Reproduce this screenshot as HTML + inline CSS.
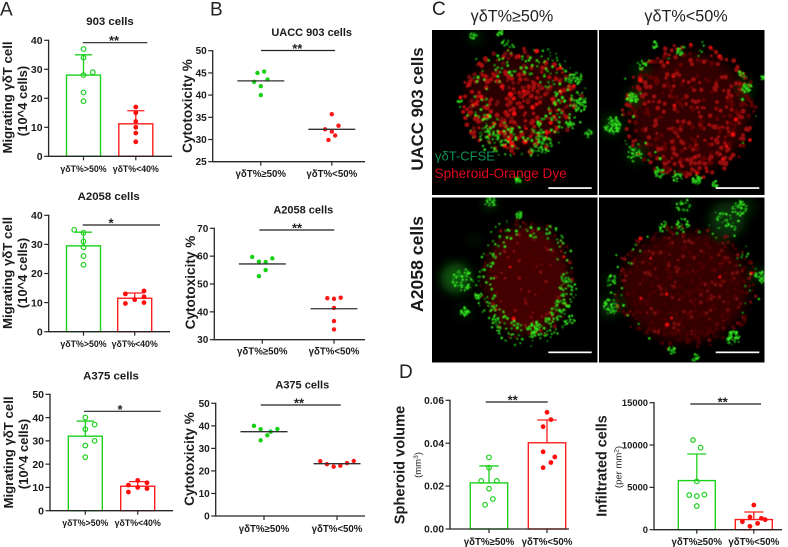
<!DOCTYPE html>
<html lang="en">
<head>
<meta charset="utf-8">
<title>Cytotoxicity figure</title>
<style>
html,body{margin:0;padding:0;background:#fff;}
svg{display:block;font-family:"Liberation Sans",sans-serif;}
.b{font-weight:bold;fill:#1a1a1a;}
</style>
</head>
<body>
<svg id="figure" xmlns="http://www.w3.org/2000/svg" width="788" height="547" viewBox="0 0 788 547">
<defs>
  <filter id="soft" x="-5%" y="-5%" width="110%" height="110%"><feGaussianBlur stdDeviation="0.4"/></filter>
  <filter id="soft2" x="-30%" y="-30%" width="160%" height="160%"><feGaussianBlur stdDeviation="5"/></filter>
  <filter id="ink" x="-5%" y="-5%" width="110%" height="110%"><feGaussianBlur stdDeviation="0.25"/></filter>
  <clipPath id="clipTL"><rect x="432" y="30" width="165.5" height="165"/></clipPath>
  <clipPath id="clipTR"><rect x="599" y="30" width="165.5" height="165"/></clipPath>
  <clipPath id="clipBL"><rect x="432" y="197.5" width="165.5" height="165"/></clipPath>
  <clipPath id="clipBR"><rect x="599" y="197.5" width="165.5" height="165"/></clipPath>
</defs>
<rect width="788" height="547" fill="#fff"/>

<!-- Panel letters -->
<text x="0" y="15.5" font-size="19" fill="#222">A</text>
<text x="210" y="15.5" font-size="19" fill="#222">B</text>
<text x="432" y="15" font-size="19" fill="#222">C</text>
<text x="399" y="378" font-size="19" fill="#222">D</text>

<!-- Panel A -->
<g id="a1" filter="url(#ink)">
  <text class="b" x="110" y="25" font-size="11.4" text-anchor="middle">903 cells</text>
  <text class="b" transform="rotate(-90 12 97.5)" x="12" y="97.5" font-size="13.2" text-anchor="middle">Migrating γδT cell</text>
  <text class="b" transform="rotate(-90 27 101)" x="27" y="101" font-size="13" text-anchor="middle">(10^4 cells)</text>
</g>
<g id="a2" filter="url(#ink)">
  <text class="b" x="108.7" y="200" font-size="11.4" text-anchor="middle">A2058 cells</text>
  <text class="b" transform="rotate(-90 12 273)" x="12" y="273" font-size="13.2" text-anchor="middle">Migrating γδT cell</text>
  <text class="b" transform="rotate(-90 27 273)" x="27" y="273" font-size="13" text-anchor="middle">(10^4 cells)</text>
</g>
<g id="a3" filter="url(#ink)">
  <text class="b" x="111" y="379.3" font-size="11.4" text-anchor="middle">A375 cells</text>
  <text class="b" transform="rotate(-90 13 452.5)" x="13" y="452.5" font-size="13.2" text-anchor="middle">Migrating γδT cell</text>
  <text class="b" transform="rotate(-90 28 454)" x="28" y="454" font-size="13" text-anchor="middle">(10^4 cells)</text>
</g>

<!-- Panel B -->
<g id="b1" filter="url(#ink)">
  <text class="b" x="311.7" y="36" font-size="11" text-anchor="middle">UACC 903 cells</text>
  <text class="b" transform="rotate(-90 192 106)" x="192" y="106" font-size="13.6" text-anchor="middle">Cytotoxicity %</text>
</g>
<g id="b2" filter="url(#ink)">
  <text class="b" x="303.3" y="213.7" font-size="11" text-anchor="middle">A2058 cells</text>
  <text class="b" transform="rotate(-90 195 282.5)" x="195" y="282.5" font-size="13.6" text-anchor="middle">Cytotoxicity %</text>
</g>
<g id="b3" filter="url(#ink)">
  <text class="b" x="302.3" y="388.3" font-size="11" text-anchor="middle">A375 cells</text>
  <text class="b" transform="rotate(-90 194 459)" x="194" y="459" font-size="13.6" text-anchor="middle">Cytotoxicity %</text>
</g>

<!-- Panel C -->
<text x="512" y="21.5" font-size="16.2" fill="#222" text-anchor="middle">γδT%≥50%</text>
<text x="686" y="21.5" font-size="16.2" fill="#222" text-anchor="middle">γδT%&lt;50%</text>
<text class="b" transform="rotate(-90 423 109)" x="423" y="109" font-size="16.8" text-anchor="middle">UACC 903 cells</text>
<text class="b" transform="rotate(-90 423 264)" x="423" y="264" font-size="17.6" text-anchor="middle">A2058 cells</text>

<g clip-path="url(#clipTL)"><rect x="432" y="30" width="165.5" height="165" fill="#000"/><g id="mTL" filter="url(#soft)"></g></g>
<g clip-path="url(#clipTR)"><rect x="599" y="30" width="165.5" height="165" fill="#000"/><g id="mTR" filter="url(#soft)"></g></g>
<g clip-path="url(#clipBL)"><rect x="432" y="197.5" width="165.5" height="165" fill="#000"/><g id="mBL" filter="url(#soft)"></g></g>
<g clip-path="url(#clipBR)"><rect x="599" y="197.5" width="165.5" height="165" fill="#000"/><g id="mBR" filter="url(#soft)"></g></g>

<text x="435" y="160.5" font-size="13" fill="#0b9150">γδT-CFSE</text>
<text x="434.5" y="178" font-size="13.6" fill="#e0061e">Spheroid-Orange Dye</text>
<rect x="548.3" y="187.2" width="43.4" height="1.7" fill="#fff"/>
<rect x="715.7" y="187.2" width="43.6" height="1.7" fill="#fff"/>
<rect x="548.3" y="351.5" width="43.4" height="1.7" fill="#fff"/>
<rect x="715.7" y="351.5" width="43.6" height="1.7" fill="#fff"/>

<!-- Panel D -->
<g id="d1" filter="url(#ink)">
  <text class="b" transform="rotate(-90 404.3 465)" x="404.3" y="465" font-size="14.6" text-anchor="middle">Spheroid volume</text>
  <text transform="rotate(-90 421 465)" x="421" y="465" font-size="9.5" fill="#222" text-anchor="middle">(mm<tspan dy="-3" font-size="6.5">3</tspan><tspan dy="3">)</tspan></text>
</g>
<g id="d2" filter="url(#ink)">
  <text class="b" transform="rotate(-90 606.7 466)" x="606.7" y="466" font-size="14.4" text-anchor="middle">Infiltrated cells</text>
  <text transform="rotate(-90 621.7 467)" x="621.7" y="467" font-size="9.5" fill="#222" text-anchor="middle">(per mm<tspan dy="-3" font-size="6.5">2</tspan><tspan dy="3">)</tspan></text>
</g>
</svg>

<script>
// ---------- Chart data ----------
const catsA = ['γδT%>50%', 'γδT%<40%'];
const catsB = ['γδT%≥50%', 'γδT%<50%'];

const a1Ticks = [0, 10, 20, 30, 40];
const a1Means = [28, 11.2];
const a1Sds = [7, 4.5];
const a1Green = [37, 34, 29, 28, 22, 19];
const a1GreenSlots = [0, 0, 1, 0, 0, 0];
const a1Red = [17, 15, 12, 10, 8, 5];
const a1RedSlots = [0, 0, 0, 0, 0, 0];

const a2Ticks = [0, 10, 20, 30, 40];
const a2Means = [29.5, 11.5];
const a2Sds = [4.7, 1.8];
const a2Green = [35, 34, 31, 29, 26, 23];
const a2GreenSlots = [-1, 0, 0, 0, 0, 0];
const a2Red = [14, 13, 12, 11, 10, 9.7];
const a2RedSlots = [1, -1, 1, 0, 1, -1];

const a3Ticks = [0, 10, 20, 30, 40, 50];
const a3Means = [32, 10.5];
const a3Sds = [6.5, 2];
const a3Green = [40, 37, 35, 30, 28, 23];
const a3GreenSlots = [0, 1, 0, 1, 0, 0];
const a3Red = [13, 12, 11, 10, 9.5, 8];
const a3RedSlots = [0, 1, -1, 0, 1, -1];

const b1Ticks = [25, 30, 35, 40, 45, 50];
const b1Means = [43.2, 32.3];
const b1Green = [45.3, 45, 43.5, 43, 42, 40];
const b1GreenSlots = [1, -1, 2, -2, 0, 0];
const b1Red = [35.7, 33.1, 32.3, 31.8, 30.9, 29.9];
const b1RedSlots = [0, 2, -2, 0, 1, -1];

const b2Ticks = [30, 40, 50, 60, 70];
const b2Means = [57.2, 41.1];
const b2Green = [59.7, 59.2, 58, 57.9, 55, 52.8];
const b2GreenSlots = [-3, 3, -1, 1, 1, -1];
const b2Red = [45.1, 44.9, 44.7, 41.4, 36.7, 33.7];
const b2RedSlots = [2, -2, 0, 0, 0, 0];

const b3Ticks = [0, 10, 20, 30, 40, 50];
const b3Means = [37.4, 23.2];
const b3Green = [40, 38.6, 38.5, 37.4, 35.8, 33.6];
const b3GreenSlots = [-3, 4, -1, 2, 1, -1];
const b3Red = [24.4, 24.3, 23.5, 23, 22.3, 21.9];
const b3RedSlots = [5, -5, 3, -3, 1, -1];

const d1Ticks = ['0.00', '0.02', '0.04', '0.06'];
const d1Means = [0.0215, 0.0402];
const d1Sds = [0.0079, 0.0106];
const d1Green = [0.0334, 0.0286, 0.0224, 0.0224, 0.0188, 0.014, 0.0113];
const d1GreenSlots = [0, 0, -2, 2, 0, 1, -1];
const d1Red = [0.0544, 0.051, 0.0477, 0.036, 0.0336, 0.031, 0.0286];
const d1RedSlots = [0, 1, -1, -1, 2, 1, -1];

const d2Ticks = [0, 5000, 10000, 15000];
const d2Means = [5800, 1200];
const d2Sds = [3137, 887];
const d2Green = [10590, 9685, 5709, 4134, 4094, 3976, 2795];
const d2GreenSlots = [-1, 1, 0, 2, -2, 0, 0];
const d2Red = [2913, 1496, 1339, 1181, 945, 748, 394];
const d2RedSlots = [0, -1, 2, 3, -3, 1, -1];

// ---------- Drawing ----------
const NS = 'http://www.w3.org/2000/svg';
const GREEN = '#1fd01f', RED = '#ff1f1f', INK = '#262626';

function mk(parent, tag, attrs, txt) {
  const el = document.createElementNS(NS, tag);
  for (const k in attrs) el.setAttribute(k, attrs[k]);
  if (txt !== undefined) el.textContent = txt;
  parent.appendChild(el);
  return el;
}

function drawAxes(g, o) {
  const y = o.y;
  const xl = mk(g, 'line', {x1: o.axisX, x2: o.xEnd, y1: o.yBot, y2: o.yBot, stroke: INK, 'stroke-width': 1.3});
  
  
  const yl = mk(g, 'line', {x1: o.axisX, x2: o.axisX, y1: o.yTop - 0.6, y2: o.yBot + 0.6, stroke: INK, 'stroke-width': 1.3});
  
  
  o.ticks.forEach(function (t) {
    const v = parseFloat(t);
    const tk = mk(g, 'line', {x1: o.axisX - 4.5, x2: o.axisX, y1: y(v), y2: y(v), stroke: INK, 'stroke-width': 1.2});
    
    
    const lb = mk(g, 'text', {x: o.axisX - 6, y: y(v), dy: '.35em', 'text-anchor': 'end', 'font-size': o.tickFont, 'font-weight': 'bold', fill: '#1a1a1a'}, String(t));
    
    
  });
  o.cats.forEach(function (c, i) {
    const cx = o.centers[i];
    const tk = mk(g, 'line', {x1: cx, x2: cx, y1: o.yBot, y2: o.yBot + 4, stroke: INK, 'stroke-width': 1.2});
    
    
    const lb = mk(g, 'text', {x: cx, y: o.labelY, dy: '.35em', 'text-anchor': 'middle', 'font-size': o.catFont, 'font-weight': 'bold', fill: '#1a1a1a'}, c);
    
    
  });
}

function drawSig(g, o) {
  const ln = mk(g, 'line', {x1: o.sig[0], x2: o.sig[1], y1: o.sig[2], y2: o.sig[2], stroke: '#222', 'stroke-width': 1.2});
  
  
  const st = mk(g, 'text', {x: o.sig[3], y: o.sig[2] + 2.5, 'text-anchor': 'middle', 'font-size': 13, 'font-weight': 'bold', fill: '#222'}, o.sig[4]);
  
  
}

function drawBarChart(id, o) {
  const g = document.getElementById(id);
  o.y = function (v) { return o.yBot - (v - 0) / o.vMax * (o.yBot - o.yTop); };
  const cols = [GREEN, RED];
  [0, 1].forEach(function (i) {
    const cx = o.centers[i], m = o.means[i], top = m + o.sds[i];
    const bar = mk(g, 'rect', {x: cx - o.barHalf, y: o.y(m), width: o.barHalf * 2, height: o.yBot - o.y(m), fill: 'none', stroke: cols[i], 'stroke-width': 1.4});
    
    
    const eb = mk(g, 'line', {x1: cx, x2: cx, y1: o.y(m), y2: o.y(top), stroke: cols[i], 'stroke-width': 1.3});
    
    
    const cap = mk(g, 'line', {x1: cx - o.capHalf, x2: cx + o.capHalf, y1: o.y(top), y2: o.y(top), stroke: cols[i], 'stroke-width': 1.3});
    
    
    o.pts[i].forEach(function (v, k) {
      const px = cx + o.slots[i][k] * o.slotW;
      const attrs = i === 0
        ? {cx: px, cy: o.y(v), r: 2.3, fill: '#fff', 'fill-opacity': 0, stroke: GREEN, 'stroke-width': 1.2}
        : {cx: px, cy: o.y(v), r: 2.4, fill: '#ff0d0d'};
      const p = mk(g, 'circle', attrs);
      
      
    });
  });
  drawAxes(g, o);
  drawSig(g, o);
}

function drawDotChart(id, o) {
  const g = document.getElementById(id);
  const lo = parseFloat(o.ticks[0]), hi = parseFloat(o.ticks[o.ticks.length - 1]);
  o.y = function (v) { return o.yBot - (v - lo) / (hi - lo) * (o.yBot - o.yTop); };
  const cols = ['#12d012', '#ff1414'];
  drawAxes(g, o);
  [0, 1].forEach(function (i) {
    const cx = o.centers[i];
    o.pts[i].forEach(function (v, k) {
      const p = mk(g, 'circle', {cx: cx + o.slots[i][k] * o.slotW, cy: o.y(v), r: 2.2, fill: cols[i]});
      
      
    });
    const ml = mk(g, 'line', {x1: cx - 23.5, x2: cx + 23.5, y1: o.y(o.means[i]), y2: o.y(o.means[i]), stroke: '#333', 'stroke-width': 1.3});
    
    
  });
  drawSig(g, o);
}

drawBarChart('a1', {axisX: 48.6, xEnd: 172, yTop: 40.3, yBot: 156.3, vMax: 40, ticks: a1Ticks, cats: catsA,
  centers: [83.5, 135.8], barHalf: 17, capHalf: 8.6, means: a1Means, sds: a1Sds, pts: [a1Green, a1Red],
  slots: [a1GreenSlots, a1RedSlots], slotW: 9.3, labelY: 168.7, tickFont: 10.5, catFont: 8.8, sig: [82.7, 147.3, 42.7, 114, '**']});
drawBarChart('a2', {axisX: 48.7, xEnd: 170, yTop: 215.3, yBot: 331.7, vMax: 40, ticks: a2Ticks, cats: catsA,
  centers: [83.5, 134.7], barHalf: 17, capHalf: 8.6, means: a2Means, sds: a2Sds, pts: [a2Green, a2Red],
  slots: [a2GreenSlots, a2RedSlots], slotW: 9.3, labelY: 343.7, tickFont: 10.5, catFont: 8.8, sig: [82.7, 160, 225, 111, '*']});
drawBarChart('a3', {axisX: 50, xEnd: 173, yTop: 394.3, yBot: 510.7, vMax: 50, ticks: a3Ticks, cats: catsA,
  centers: [85.3, 137.7], barHalf: 17, capHalf: 8.6, means: a3Means, sds: a3Sds, pts: [a3Green, a3Red],
  slots: [a3GreenSlots, a3RedSlots], slotW: 9.3, labelY: 523, tickFont: 10.5, catFont: 8.8, sig: [84, 160.7, 411.3, 120, '*']});

drawDotChart('b1', {axisX: 212.7, xEnd: 365, yTop: 50.7, yBot: 161.7, ticks: b1Ticks, cats: catsB,
  centers: [260.8, 331.8], means: b1Means, pts: [b1Green, b1Red], slots: [b1GreenSlots, b1RedSlots], slotW: 3.35,
  labelY: 173.7, tickFont: 10, catFont: 9.7, sig: [261, 335, 50.5, 297.3, '**']});
drawDotChart('b2', {axisX: 214.3, xEnd: 365, yTop: 228.3, yBot: 339.7, ticks: b2Ticks, cats: catsB,
  centers: [262.3, 334], means: b2Means, pts: [b2Green, b2Red], slots: [b2GreenSlots, b2RedSlots], slotW: 3.35,
  labelY: 351.3, tickFont: 10, catFont: 9.7, sig: [259.3, 334.3, 230, 297, '**']});
drawDotChart('b3', {axisX: 215.7, xEnd: 365, yTop: 403.3, yBot: 516, ticks: b3Ticks, cats: catsB,
  centers: [264, 337], means: b3Means, pts: [b3Green, b3Red], slots: [b3GreenSlots, b3RedSlots], slotW: 3.35,
  labelY: 528.7, tickFont: 10, catFont: 9.7, sig: [260.7, 340.7, 405, 299, '**']});

drawBarChart('d1', {axisX: 450, xEnd: 569, yTop: 400.3, yBot: 529, vMax: 0.06, ticks: d1Ticks, cats: catsB,
  centers: [489, 547], barHalf: 18.7, capHalf: 9.7, means: d1Means, sds: d1Sds, pts: [d1Green, d1Red],
  slots: [d1GreenSlots, d1RedSlots], slotW: 3.9, labelY: 541.7, tickFont: 10.2, catFont: 9.7, sig: [485.7, 547.7, 402, 512.7, '**']});
drawBarChart('d2', {axisX: 654, xEnd: 782, yTop: 402.7, yBot: 529.7, vMax: 15000, ticks: d2Ticks, cats: catsB,
  centers: [696.8, 753.8], barHalf: 18.5, capHalf: 9.5, means: d2Means, sds: d2Sds, pts: [d2Green, d2Red],
  slots: [d2GreenSlots, d2RedSlots], slotW: 3.8, labelY: 541.7, tickFont: 9.4, catFont: 9.7, sig: [690.3, 761, 404, 722.7, '**']});

// ---------- Micrograph texture (decorative photograph stand-in, not chart data) ----------
let seed = 12345;
function rnd() { seed = (seed * 1664525 + 1013904223) % 4294967296; return seed / 4294967296; }

function disc(g, x, y, r, fill, op) {
  const c = mk(g, 'circle', {cx: x.toFixed(1), cy: y.toFixed(1), r: r.toFixed(1), fill: fill, opacity: op});
  return c;
}

function micro(id, s) {
  const g = document.getElementById(id);
  const blur = mk(g, 'g', {filter: 'url(#soft2)'});
  mk(blur, 'ellipse', {cx: s.cx, cy: s.cy, rx: s.rx * 0.9, ry: s.ry * 0.9, fill: s.base});
  s.haze.forEach(function (h) { disc(blur, h[0], h[1], h[2], h[3], h[4]); });
  for (let i = 0; i < s.redN; i++) {
    const a = rnd() * 6.2832, r = Math.sqrt(rnd()) * 1.04;
    const b = rnd();
    const col = b > s.brightCut ? '#ee1010' : (b > s.midCut ? s.mid : s.dim);
    disc(g, s.cx + Math.cos(a) * r * s.rx, s.cy + Math.sin(a) * r * s.ry, s.rMin + rnd() * s.rVar, col, 1);
  }
  for (let i = 0; i < s.edgeN; i++) {
    const a = s.arcs[Math.floor(rnd() * s.arcs.length)] + (rnd() - 0.5) * 1.6;
    const r = s.rIn + rnd() * (1.12 - s.rIn);
    disc(g, s.cx + Math.cos(a) * r * s.rx, s.cy + Math.sin(a) * r * s.ry, 0.6 + rnd() * 0.7, rnd() > 0.3 ? '#2ee81e' : '#149a14', 1);
  }
  s.clusters.forEach(function (c) {
    for (let i = 0; i < c[3]; i++) {
      const a = rnd() * 6.2832, r = Math.sqrt(rnd()) * c[2];
      disc(g, c[0] + Math.cos(a) * r, c[1] + Math.sin(a) * r, 0.6 + rnd() * 0.7, rnd() > 0.35 ? '#34ea20' : '#129512', 1);
    }
  });
}

micro('mTL', {cx: 520, cy: 101, rx: 60, ry: 51, base: '#2c0303', redN: 300, rMin: 1.3, rVar: 1.2,
  brightCut: 0.9, midCut: 0.35, mid: '#a80c0c', dim: '#6a0707',
  edgeN: 260, rIn: 0.5, arcs: [0, 0.5, 1.2, 1.8, 2.6, -0.4, -1.2, -2],
  haze: [[475, 37, 6, '#0a5a0a', 0.5], [520, 180, 6, '#0a5a0a', 0.4], [590, 133, 5, '#0c4a0c', 0.4]],
  clusters: [[473, 35, 4, 16], [500, 33, 3.5, 14], [505, 42, 4, 10], [575, 78, 7, 40], [580, 105, 7, 40], [518, 180, 3, 24], [588, 133, 4, 16], [540, 146, 10, 36], [490, 135, 10, 36], [570, 125, 5, 14]]});

micro('mTR', {cx: 690, cy: 112, rx: 65, ry: 66, base: '#330303', redN: 420, rMin: 1.3, rVar: 1.1,
  brightCut: 0.95, midCut: 0.4, mid: '#980b0b', dim: '#5e0606',
  edgeN: 30, rIn: 0.8, arcs: [0, 1.5, 3, 4.5],
  haze: [[612, 125, 10, '#0c640c', 0.5], [632, 98, 7, '#0c5a0c', 0.45], [640, 70, 8, '#0a3a0a', 0.5], [635, 155, 9, '#0c4a0c', 0.5], [747, 88, 7, '#0c5a0c', 0.45]],
  clusters: [[612, 125, 9, 70], [632, 98, 5.5, 34], [747, 88, 5, 28], [697, 180, 5, 40], [660, 173, 5, 26], [677, 177, 5, 22], [635, 155, 7, 26], [642, 65, 5, 18], [680, 52, 3.5, 16], [715, 184, 3, 14], [763, 78, 2.5, 12], [655, 45, 3.5, 12], [742, 75, 5, 10]]});

micro('mBL', {cx: 527, cy: 280, rx: 46, ry: 60, base: '#420404', redN: 240, rMin: 0.9, rVar: 1.0,
  brightCut: 0.97, midCut: 0.72, mid: '#7c0909', dim: '#4c0505',
  edgeN: 260, rIn: 0.72, arcs: [0, 1.57, 3.14, 4.71, 0.8, 2.4],
  haze: [[456, 278, 15, '#136a10', 0.8], [465, 312, 5, '#136a10', 0.5], [490, 203, 6, '#106a10', 0.6], [475, 240, 5, '#083808', 0.5]],
  clusters: [[463, 280, 11, 50], [465, 312, 5, 30], [490, 202, 6, 34], [520, 215, 4, 18], [535, 330, 8, 30], [570, 320, 5, 14], [567, 282, 5, 18], [478, 296, 4, 18]]});

micro('mBR', {cx: 685, cy: 287, rx: 70, ry: 61, base: '#360303', redN: 420, rMin: 1.1, rVar: 1.1,
  brightCut: 0.985, midCut: 0.7, mid: '#6e0707', dim: '#480404',
  edgeN: 40, rIn: 0.85, arcs: [-1, 0.2, 2.6, 3.4],
  haze: [[727, 220, 18, '#0c4f0c', 0.6], [745, 207, 10, '#0a420a', 0.5], [683, 205, 8, '#0a3a0a', 0.5], [610, 307, 10, '#0e5e0e', 0.5], [610, 280, 6, '#0a3a0a', 0.5], [760, 275, 7, '#0e5e0e', 0.5]],
  clusters: [[727, 218, 14, 44], [740, 207, 7, 28], [683, 205, 7, 20], [733, 338, 7, 46], [760, 277, 6, 34], [610, 307, 8, 44], [612, 280, 5, 12], [672, 350, 4, 20], [695, 357, 5, 20], [683, 225, 7, 22], [663, 226, 6, 18]]});
</script>
</body>
</html>
